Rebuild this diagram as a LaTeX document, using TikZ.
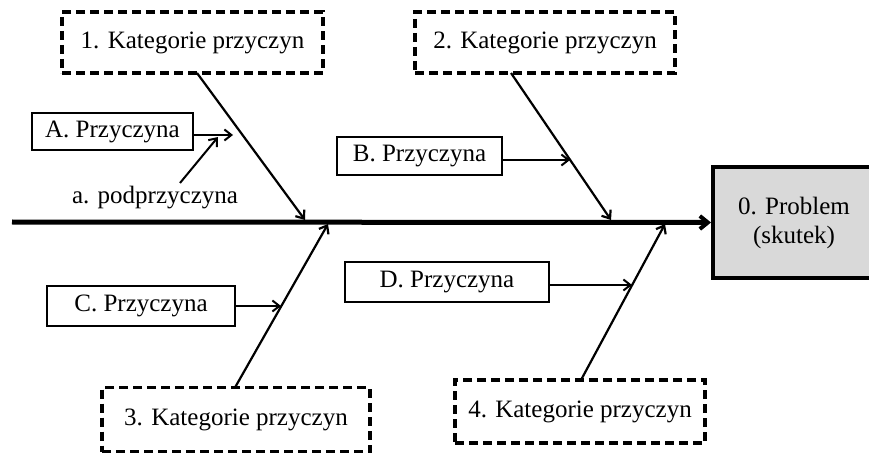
\documentclass[tikz,border=0pt]{standalone}
\usepackage{fontspec}
\setmainfont{Liberation Serif}
\usetikzlibrary{arrows.meta,calc}
\begin{document}
\begin{tikzpicture}[x=1pt,y=-1pt,
  every node/.style={font=\fontsize{25}{29}\selectfont, inner sep=0pt, align=center},
  catbox/.style={draw, line width=3.4pt, dash pattern=on 9pt off 5pt, rectangle},
  causebox/.style={draw, line width=1.3pt, rectangle},
  probbox/.style={draw, line width=4pt, fill=black!15, rectangle},
  bone/.style={line width=2.2pt, -{Straight Barb[length=7pt,width=11pt]}},
  twig/.style={line width=2pt, -{Straight Barb[length=7pt,width=11pt]}},
  spine/.style={line width=5pt, -{Straight Barb[length=8pt,width=13pt,line width=4pt]}}]
\useasboundingbox (0,0) rectangle (869,454);
\clip (0,0) rectangle (869,454);
% nodes
\node[catbox, minimum width=261pt, minimum height=61pt] (c1) at (192.5,42.5) {1. Kategorie przyczyn};
\node[catbox, minimum width=260pt, minimum height=61pt] (c2) at (545,42.5) {2. Kategorie przyczyn};
\node[catbox, minimum width=268pt, minimum height=64pt] (c3) at (236,419.5) {3. Kategorie przyczyn};
\node[catbox, minimum width=250pt, minimum height=63pt] (c4) at (580,411.5) {4. Kategorie przyczyn};
\node[causebox, minimum width=161pt, minimum height=37pt] (pa) at (112.5,131.5) {A. Przyczyna};
\node[causebox, minimum width=165pt, minimum height=38pt] (pb) at (419.5,156) {B. Przyczyna};
\node[causebox, minimum width=188pt, minimum height=40pt] (pc) at (141,306) {C. Przyczyna};
\node[causebox, minimum width=204pt, minimum height=40pt] (pd) at (447,282) {D. Przyczyna};
\node (sa) at (155,198) {a. podprzyczyna};
\node[probbox, minimum width=162pt, minimum height=111pt] (prob) at (794,222.5) {0. Problem\\(skutek)};
% coordinates
\coordinate (tail) at (12,222);
\coordinate (s1) at (305,220);
\coordinate (s2) at (611,220);
\coordinate (s3) at (328,224);
\coordinate (s4) at (665,224);
\coordinate (b1) at (197,73);
\coordinate (b2) at (511,73);
\coordinate (b3) at (235,387.5);
\coordinate (b4) at (581,380);
\coordinate (ta) at (233,135);
\coordinate (tsa) at (218,137);
\coordinate (fsa) at (180,183);
\coordinate (tb) at (570,160);
\coordinate (tc) at (281,306);
\coordinate (td) at (632,285);
% spine
\draw[spine] (tail) -- (prob.west);
% bones
\draw[bone] (b1) -- (s1);
\draw[bone] (b2) -- (s2);
\draw[bone] (b3) -- (s3);
\draw[bone] (b4) -- (s4);
% twigs
\draw[twig] (pa.east |- ta) -- (ta);
\draw[twig] (fsa) -- (tsa);
\draw[twig] (pb.east |- tb) -- (tb);
\draw[twig] (pc.east) -- (tc);
\draw[twig] (pd.east |- td) -- (td);
\end{tikzpicture}
\end{document}
